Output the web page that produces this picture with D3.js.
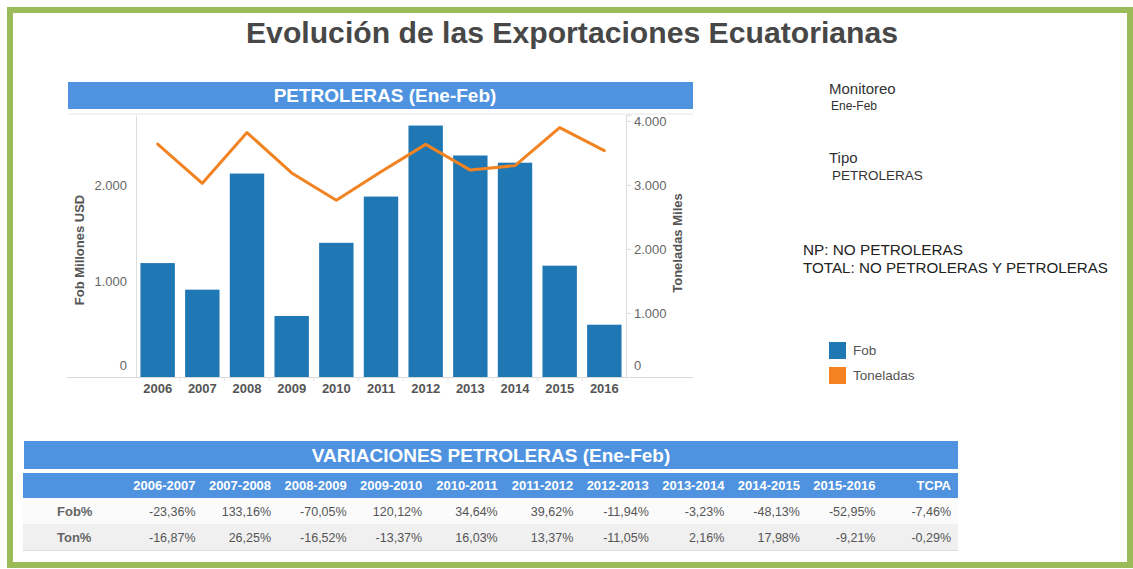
<!DOCTYPE html>
<html lang="es">
  <head>
    <meta charset="utf-8" />
    <title>Evolución de las Exportaciones Ecuatorianas</title>
    <script src="https://cdnjs.cloudflare.com/ajax/libs/d3/7.8.5/d3.min.js"></script>
    <style>
      body { margin: 0; background: #fff; }
      svg { display: block; font-family: "Liberation Sans", Arial, sans-serif; }
    </style>
  </head>
  <body>
    <script>
      // datos (Ene-Feb, petroleras)
      const years = ['2006', '2007', '2008', '2009', '2010', '2011', '2012', '2013', '2014', '2015', '2016'];
      const fob = [1187, 910, 2120, 636, 1398, 1880, 2620, 2308, 2233, 1160, 545];
      const toneladas = [3640, 3026, 3820, 3189, 2763, 3206, 3635, 3233, 3303, 3897, 3538];

      const fobTicks = [0, 1000, 2000];
      const tonTicks = [0, 1000, 2000, 3000, 4000];

      const periods = ['2006-2007', '2007-2008', '2008-2009', '2009-2010', '2010-2011', '2011-2012',
        '2012-2013', '2013-2014', '2014-2015', '2015-2016', 'TCPA'];
      const rowNames = ['Fob%', 'Ton%'];
      const fobPct = ['-23,36%', '133,16%', '-70,05%', '120,12%', '34,64%', '39,62%', '-11,94%', '-3,23%', '-48,13%', '-52,95%', '-7,46%'];
      const tonPct = ['-16,87%', '26,25%', '-16,52%', '-13,37%', '16,03%', '13,37%', '-11,05%', '2,16%', '17,98%', '-9,21%', '-0,29%'];

      const width = 1133;
      const height = 569;
      const headBlue = '#4f93e0';
      const barBlue = '#1f77b4';
      const lineOrange = '#f28322';

      const svg = d3.select('body')
        .append('svg')
        .attr('width', width)
        .attr('height', height)
        .attr('viewBox', [0, 0, width, height]);

      // marco verde
      svg.append('rect')
        .attr('x', 10).attr('y', 10)
        .attr('width', 1120).attr('height', 555)
        .attr('fill', '#fff')
        .attr('stroke', '#9bbb59')
        .attr('stroke-width', 6);

      svg.append('text')
        .attr('x', 572).attr('y', 43)
        .attr('text-anchor', 'middle')
        .attr('font-size', 30).attr('font-weight', 'bold')
        .attr('fill', '#474747')
        .attr('textLength', 652)
        .attr('lengthAdjust', 'spacingAndGlyphs')
        .text('Evolución de las Exportaciones Ecuatorianas');

      // ---- grafico principal ----
      const plotLeft = 136, plotRight = 626, plotTop = 115, plotBottom = 377;

      svg.append('rect')
        .attr('x', 68).attr('y', 82).attr('width', 625).attr('height', 27)
        .attr('fill', headBlue);
      svg.append('text')
        .attr('x', 385).attr('y', 102)
        .attr('text-anchor', 'middle')
        .attr('font-size', 19).attr('font-weight', 'bold')
        .attr('fill', '#fff')
        .text('PETROLERAS (Ene-Feb)');

      const x = d3.scaleBand()
        .domain(years)
        .range([plotLeft, plotRight])
        .paddingInner(0.23)
        .paddingOuter(0.1);

      const y = d3.scaleLinear()
        .domain([0, 2730])
        .range([plotBottom, plotTop]);

      const y2 = d3.scaleLinear()
        .domain([0, 4094])
        .range([plotBottom, plotTop]);

      const locale = d3.formatLocale({ decimal: ',', thousands: '.', grouping: [3], currency: ['', ''] });
      const fmt = locale.format(',');

      // lineas del area
      svg.append('line')
        .attr('x1', 68).attr('x2', 693)
        .attr('y1', plotTop - 1).attr('y2', plotTop - 1)
        .attr('stroke', '#e6e6e6');
      svg.append('line')
        .attr('x1', 67).attr('x2', 693)
        .attr('y1', plotBottom + 0.5).attr('y2', plotBottom + 0.5)
        .attr('stroke', '#d9d9d9');

      // eje izquierdo
      svg.append('g')
        .attr('transform', `translate(${plotLeft},0)`)
        .call(d3.axisLeft(y).tickValues(fobTicks).tickFormat(fmt).tickSize(0).tickPadding(9))
        .call(g => g.select('.domain').attr('stroke', '#dcdcdc'))
        .call(g => g.selectAll('.tick text')
          .attr('font-size', 13).attr('fill', '#666')
          .attr('font-family', 'Liberation Sans, Arial, sans-serif')
          .filter(d => d === 0).attr('dy', '-0.6em'));

      // eje derecho
      svg.append('g')
        .attr('transform', `translate(${plotRight},0)`)
        .call(d3.axisRight(y2).tickValues(tonTicks).tickFormat(fmt).tickSize(5).tickPadding(3))
        .call(g => g.select('.domain').attr('stroke', '#dcdcdc'))
        .call(g => g.selectAll('.tick line').attr('stroke', '#dcdcdc'))
        .call(g => g.selectAll('.tick text')
          .attr('font-size', 13).attr('fill', '#666')
          .attr('font-family', 'Liberation Sans, Arial, sans-serif')
          .filter(d => d === 0).attr('dy', '-0.6em'));

      // eje x
      svg.append('g')
        .attr('transform', `translate(0,${plotBottom})`)
        .call(d3.axisBottom(x).tickSize(0).tickPadding(7))
        .call(g => g.select('.domain').remove())
        .call(g => g.selectAll('.tick text')
          .attr('font-size', 13).attr('font-weight', 'bold').attr('fill', '#555')
          .attr('font-family', 'Liberation Sans, Arial, sans-serif'));

      // separadores pequeños bajo el eje
      svg.append('g')
        .selectAll('line')
        .data(years.slice(1))
        .join('line')
        .attr('x1', d => x(d) - x.step() * x.paddingInner() / 2)
        .attr('x2', d => x(d) - x.step() * x.paddingInner() / 2)
        .attr('y1', plotBottom).attr('y2', plotBottom + 4)
        .attr('stroke', '#e3e3e3');

      // titulos de ejes
      svg.append('text')
        .attr('transform', `translate(84,${(plotTop + plotBottom) / 2 + 4}) rotate(-90)`)
        .attr('text-anchor', 'middle')
        .attr('font-size', 13).attr('font-weight', 'bold').attr('fill', '#555')
        .text('Fob Millones USD');
      svg.append('text')
        .attr('transform', `translate(682,${(plotTop + plotBottom) / 2 - 3}) rotate(-90)`)
        .attr('text-anchor', 'middle')
        .attr('font-size', 13).attr('font-weight', 'bold').attr('fill', '#555')
        .text('Toneladas Miles');

      // barras
      svg.append('g')
        .attr('fill', barBlue)
        .selectAll('rect')
        .data(fob)
        .join('rect')
        .attr('x', (d, i) => x(years[i]))
        .attr('y', d => y(d))
        .attr('width', x.bandwidth())
        .attr('height', d => y(0) - y(d));

      // linea toneladas
      const line = d3.line()
        .x((d, i) => x(years[i]) + x.bandwidth() / 2)
        .y(d => y2(d));

      svg.append('path')
        .datum(toneladas)
        .attr('fill', 'none')
        .attr('stroke', lineOrange)
        .attr('stroke-width', 3)
        .attr('stroke-linejoin', 'round')
        .attr('stroke-linecap', 'round')
        .attr('d', line);

      // ---- panel derecho ----
      const side = svg.append('g').attr('fill', '#333');
      side.append('text').attr('x', 829).attr('y', 94).attr('font-size', 15).text('Monitoreo');
      side.append('text').attr('x', 831).attr('y', 110).attr('font-size', 12).text('Ene-Feb');
      side.append('text').attr('x', 829).attr('y', 163).attr('font-size', 15).text('Tipo');
      side.append('text').attr('x', 832).attr('y', 180).attr('font-size', 13.5).text('PETROLERAS');
      side.append('text').attr('x', 803).attr('y', 255).attr('font-size', 15).attr('fill', '#222')
        .attr('textLength', 160).attr('lengthAdjust', 'spacingAndGlyphs').text('NP: NO PETROLERAS');
      side.append('text').attr('x', 803).attr('y', 273).attr('font-size', 15).attr('fill', '#222')
        .attr('textLength', 305).attr('lengthAdjust', 'spacingAndGlyphs').text('TOTAL: NO PETROLERAS Y PETROLERAS');

      const legendItems = [['Fob', barBlue], ['Toneladas', '#f58220']];
      const legend = svg.append('g')
        .selectAll('g')
        .data(legendItems)
        .join('g')
        .attr('transform', (d, i) => `translate(829,${342 + i * 25})`);
      legend.append('rect').attr('width', 17).attr('height', 17).attr('fill', d => d[1]);
      legend.append('text')
        .attr('x', 24).attr('y', 13)
        .attr('font-size', 13.5).attr('fill', '#555')
        .text(d => d[0]);

      // ---- tabla de variaciones ----
      svg.append('rect')
        .attr('x', 24).attr('y', 441).attr('width', 934).attr('height', 28)
        .attr('fill', headBlue);
      svg.append('text')
        .attr('x', 491).attr('y', 462)
        .attr('text-anchor', 'middle')
        .attr('font-size', 19).attr('font-weight', 'bold')
        .attr('fill', '#fff')
        .text('VARIACIONES PETROLERAS (Ene-Feb)');

      svg.append('rect')
        .attr('x', 23).attr('y', 473).attr('width', 935).attr('height', 25)
        .attr('fill', headBlue);

      const cx = d3.scaleBand()
        .domain(periods)
        .range([120, 951]);

      const ry = d3.scaleBand()
        .domain(rowNames)
        .range([498, 550]);

      svg.append('g')
        .selectAll('text')
        .data(periods)
        .join('text')
        .attr('x', d => cx(d) + cx.bandwidth())
        .attr('y', 490)
        .attr('text-anchor', 'end')
        .attr('font-size', 13).attr('font-weight', 'bold').attr('fill', '#fff')
        .text(d => d);

      const rows = [fobPct, tonPct];
      const rowG = svg.append('g')
        .selectAll('g')
        .data(rows)
        .join('g')
        .attr('transform', (d, i) => `translate(0,${ry(rowNames[i])})`);

      rowG.append('rect')
        .attr('x', 23).attr('width', 935)
        .attr('height', ry.bandwidth())
        .attr('fill', (d, i) => i === 0 ? '#fbfbfb' : '#f0f0f0');

      rowG.append('text')
        .attr('x', 57).attr('y', ry.bandwidth() / 2 + 5)
        .attr('font-size', 13).attr('font-weight', 'bold').attr('fill', '#666')
        .text((d, i) => rowNames[i]);

      rowG.selectAll('text.val')
        .data(d => d)
        .join('text')
        .attr('class', 'val')
        .attr('x', (d, j) => cx(periods[j]) + cx.bandwidth())
        .attr('y', ry.bandwidth() / 2 + 5)
        .attr('text-anchor', 'end')
        .attr('font-size', 12.5).attr('fill', '#555')
        .text(d => d);

      svg.append('line')
        .attr('x1', 23).attr('x2', 958)
        .attr('y1', 550.5).attr('y2', 550.5)
        .attr('stroke', '#dedede');
    </script>
  </body>
</html>
